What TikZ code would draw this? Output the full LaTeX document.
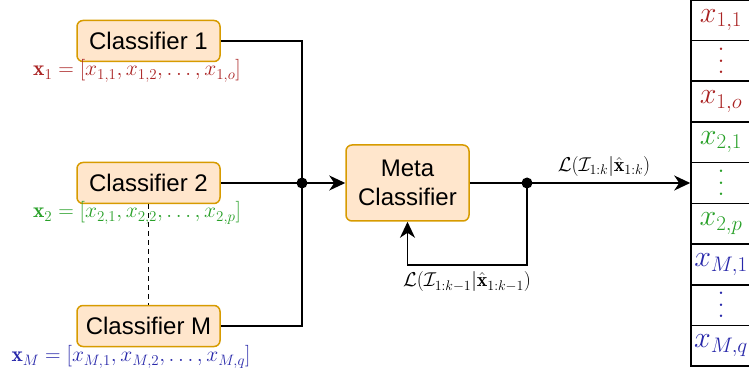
\RequirePackage{fix-cm}
\documentclass[tikz,border=0pt]{standalone}
\usepackage{amsmath,amssymb}
\usepackage{fontspec}
\newfontfamily\boxfont{Liberation Sans}
\usetikzlibrary{arrows.meta,positioning,calc}
\definecolor{boxfill}{HTML}{FFE6CC}
\definecolor{boxline}{HTML}{D79B00}
\definecolor{xred}{RGB}{170,35,35}
\definecolor{xgreen}{RGB}{40,160,40}
\definecolor{xblue}{RGB}{40,40,170}
\newcommand{\celldots}{\vbox{\baselineskip=11.5pt\lineskiplimit=0pt\hbox{.}\hbox{.}\hbox{.}}}

\begin{document}
\begin{tikzpicture}[
      x=1pt, y=-1pt,
      clf/.style={draw=boxline,fill=boxfill,rounded corners=6pt,line width=1.5pt,minimum width=143pt,minimum height=41pt,inner sep=0pt,align=center,font=\boxfont\fontsize{24}{29}\selectfont},
      cell/.style={draw,line width=1.6pt,minimum width=60pt,minimum height=40.7pt,inner sep=0pt,font=\fontsize{30}{32}\selectfont},
      vec/.style={inner sep=0pt,font=\fontsize{21.5}{24}\selectfont},
      lbl/.style={inner sep=0pt,font=\fontsize{20}{22}\selectfont},
      wire/.style={line width=1.6pt},
      flow/.style={wire,-{Stealth[length=16pt,width=15pt,inset=5pt]}},
      dot/.style={circle,fill,inner sep=0pt,minimum size=11pt},
    ]
    \useasboundingbox (0,0) rectangle (749,379);
    \clip (0,0) rectangle (749,379);

    \node[clf] (c1) at (148.5,41) {Classifier 1};
    \node[clf] (c2) at (148.5,183) {Classifier 2};
    \node[clf] (cm) at (148.5,326) {Classifier M};
    \node[vec,text=xred]   (v1) at (137,71)  {$\mathbf{x}_1 = [x_{1,1}, x_{1,2}, \ldots, x_{1,o}]$};
    \node[vec,text=xgreen] (v2) at (137,213) {$\mathbf{x}_2 = [x_{2,1}, x_{2,2}, \ldots, x_{2,p}]$};
    \node[vec,text=xblue]  (vm) at (131,357) {$\mathbf{x}_M = [x_{M,1}, x_{M,2}, \ldots, x_{M,q}]$};

    \node[clf,minimum width=123pt,minimum height=76pt] (meta) at (407.5,183) {Meta\\Classifier};
    \node[dot] (jd) at (302,183) {};
    \node[dot] (od) at (527,183) {};
    \coordinate (fb) at (527,265);

    % output vector
    \foreach \txt/\col [count=\i from 0] in {$x_{1,1}$/xred, \celldots/xred, $x_{1,o}$/xred, $x_{2,1}$/xgreen, \celldots/xgreen, $x_{2,p}$/xgreen, $x_{M,1}$/xblue, \celldots/xblue, $x_{M,q}$/xblue} {
      \node[cell,text=\col] (cell\i) at (721,{183+(\i-4)*40.7}) {\txt};
    }

    \draw[wire,dashed,dash pattern=on 5pt off 4pt] (c2.south) -- (cm.north);
    \draw[wire] (c1.east) -| (jd.center);
    \draw[wire] (cm.east) -| (jd.center);
    \draw[flow] (c2.east) -- (meta.west);
    \draw[flow] (meta.east) -- (cell4.west);
    \draw[flow] (od.center) -- (fb) -| (meta.south);

    \node[lbl] (outl) at (604,167) {$\mathcal{L}(\mathcal{I}_{1:k}|\hat{\mathbf{x}}_{1:k})$};
    \node[lbl] (fbl) at (467,282) {$\mathcal{L}(\mathcal{I}_{1:k-1}|\hat{\mathbf{x}}_{1:k-1})$};
  \end{tikzpicture}
\end{document}
